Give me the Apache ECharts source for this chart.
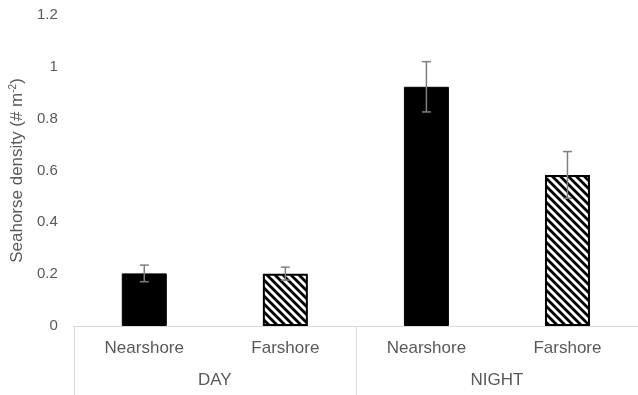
<!DOCTYPE html>
<html>
<head>
<meta charset="utf-8">
<script src="https://cdn.jsdelivr.net/npm/echarts@6/dist/echarts.min.js"></script>
<style>
html,body{margin:0;padding:0;background:#fff;}
#chart{width:638px;height:395px;}
</style>
</head>
<body>
<div id="chart"></div>
<script>
const categories = ['Nearshore', 'Farshore', 'Nearshore', 'Farshore'];
const groups = ['DAY', 'NIGHT'];
const means = [0.203, 0.202, 0.923, 0.583];
const errors = [0.032, 0.025, 0.097, 0.090];
const yTicks = { min: 0, max: 1.2, interval: 0.2 };

// hatch pattern
function makeHatch() {
  const s = 8;
  const c = document.createElement('canvas');
  c.width = s; c.height = s;
  const g = c.getContext('2d');
  g.fillStyle = '#fff';
  g.fillRect(0, 0, s, s);
  g.strokeStyle = '#000';
  g.lineWidth = 2.8;
  g.beginPath();
  g.moveTo(-2, -2); g.lineTo(s + 2, s + 2);
  g.moveTo(-2, s - 2); g.lineTo(2, s + 2);
  g.moveTo(s - 2, -2); g.lineTo(s + 2, 2);
  g.stroke();
  return c;
}
const hatch = makeHatch();

const barData = means.map((v, i) => ({
  value: v,
  itemStyle: (i % 2 === 0)
    ? { color: '#000', borderColor: '#000', borderWidth: 1 }
    : { color: { image: hatch, repeat: 'repeat' }, borderColor: '#000', borderWidth: 2 }
}));

const errData = means.map((v, i) => [i, v - errors[i], v + errors[i]]);

const textColor = '#595959';
const fontFamily = '"Liberation Sans", Arial, sans-serif';

const chart = echarts.init(document.getElementById('chart'));
chart.setOption({
  animation: false,
  backgroundColor: '#fff',
  grid: { left: 73, top: 15, width: 568, bottom: 69, containLabel: false },
  xAxis: [
    {
      type: 'category',
      data: categories,
      position: 'bottom',
      axisLine: { show: true, lineStyle: { color: '#d9d9d9', width: 1 } },
      axisTick: { show: false },
      axisLabel: { color: textColor, fontSize: 17, fontFamily: fontFamily, margin: 14, interval: 0 }
    },
    {
      type: 'category',
      data: groups,
      position: 'bottom',
      axisLine: { show: false },
      axisTick: { show: true, length: 70, interval: 0, lineStyle: { color: '#d9d9d9', width: 1 } },
      axisLabel: { color: textColor, fontSize: 17, fontFamily: fontFamily, margin: 46, interval: 0 }
    }
  ],
  yAxis: {
    type: 'value',
    min: yTicks.min, max: yTicks.max, interval: yTicks.interval,
    axisLine: { show: false },
    axisTick: { show: false },
    splitLine: { show: false },
    axisLabel: { color: textColor, fontSize: 15, fontFamily: fontFamily, margin: 16 },
    name: 'Seahorse density (# m{sup|-2})',
    nameLocation: 'middle',
    nameGap: 46,
    nameTextStyle: {
      color: textColor, fontSize: 17, fontFamily: fontFamily,
      rich: { sup: { fontSize: 10, color: textColor, fontFamily: fontFamily, padding: [0, 0, 9, 0] } }
    }
  },
  series: [
    {
      type: 'bar',
      xAxisIndex: 0,
      data: barData,
      barWidth: 45
    },
    {
      type: 'custom',
      xAxisIndex: 0,
      data: errData,
      z: 10,
      renderItem: function (params, api) {
        const x = api.value(0);
        const lo = api.coord([x, api.value(1)]);
        const hi = api.coord([x, api.value(2)]);
        const hw = 4.5;
        const style = { stroke: '#7f7f7f', lineWidth: 1.5 };
        return {
          type: 'group',
          children: [
            { type: 'line', shape: { x1: hi[0], y1: hi[1], x2: lo[0], y2: lo[1] }, style: style },
            { type: 'line', shape: { x1: hi[0] - hw, y1: hi[1], x2: hi[0] + hw, y2: hi[1] }, style: style },
            { type: 'line', shape: { x1: lo[0] - hw, y1: lo[1], x2: lo[0] + hw, y2: lo[1] }, style: style }
          ]
        };
      }
    }
  ]
});
</script>
</body>
</html>
